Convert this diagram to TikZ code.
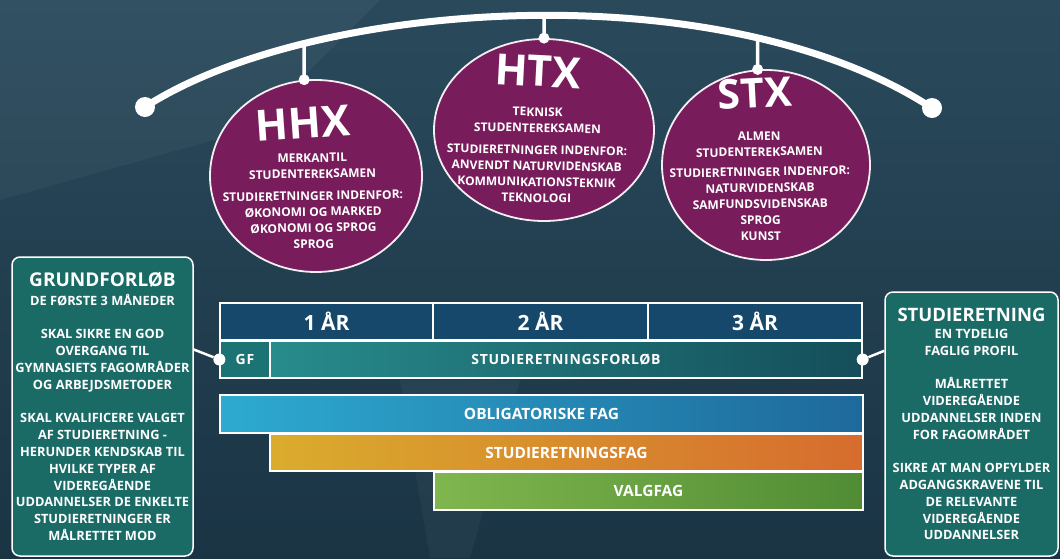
\documentclass[tikz,border=0pt]{standalone}
\usepackage{fontspec}
\setmainfont{Open Sans}
\usetikzlibrary{shapes.geometric,intersections}
\definecolor{bgtop}{RGB}{42,74,92}
\definecolor{bgbot}{RGB}{26,52,68}
\definecolor{plum}{RGB}{120,28,92}
\definecolor{boxteal}{RGB}{26,106,102}
\definecolor{yearblue}{RGB}{22,72,108}
\definecolor{sfL}{RGB}{40,140,140}
\definecolor{sfR}{RGB}{20,78,90}
\definecolor{gfteal}{RGB}{28,115,115}
\definecolor{obL}{RGB}{45,170,208}
\definecolor{obR}{RGB}{30,105,155}
\definecolor{srL}{RGB}{218,172,45}
\definecolor{srR}{RGB}{214,108,46}
\definecolor{vgL}{RGB}{128,182,78}
\definecolor{vgR}{RGB}{80,140,52}
\begin{document}
\begin{tikzpicture}[x=1pt,y=-1pt,
  every node/.style={text=white, inner sep=0pt},
  myell/.style={ellipse, draw=white!92!plum, line width=1.8pt, fill=plum},
  mytitle/.style={font=\bfseries\fontsize{43}{43}\selectfont},
  mybody/.style={align=center, font=\bfseries\fontsize{12}{16}\selectfont},
  bigdot/.style={circle, fill=white, minimum size=20pt},
  smalldot/.style={circle, fill=white, minimum size=11pt},
  stemline/.style={white, line width=3.5pt},
  infobox/.style={draw=white, line width=1.5pt, rounded corners=8pt, fill=boxteal, align=center, font=\bfseries\fontsize{12.8}{16.8}\selectfont},
  yearcell/.style={draw=white, line width=1.3pt, minimum height=37pt, fill=yearblue, font=\bfseries\fontsize{21}{21}\selectfont},
  rowcell/.style={draw=white, line width=1.3pt, minimum height=37pt, font=\bfseries\fontsize{14}{14}\selectfont\addfontfeatures{LetterSpace=5}},
  fagbar/.style={draw=white, line width=1.3pt, font=\bfseries\fontsize{15.5}{15.5}\selectfont},
  linkline/.style={white, line width=2.5pt}
]
\useasboundingbox (0,0) rectangle (1060,558);
\shade[top color=bgtop, bottom color=bgbot] (0,0) rectangle (1060,558);
\fill[white, opacity=0.04] (0,0) -- (380,0) -- (250,130) -- (0,200) -- cycle;
\fill[white, opacity=0.04] (400,380) -- (520,380) -- (470,558) -- (430,558) -- cycle;

% arc with end dots
\node[bigdot] (L) at (145,107) {};
\node[bigdot] (R) at (932,108) {};
\draw[white, line width=7pt, name path=arc] (L.center) .. controls (310,0) and (720,-30) .. (R.center);

% ellipses
\node[myell, minimum width=212pt, minimum height=192pt] (hhx) at (316,176) {};
\node[myell, minimum width=220pt, minimum height=182pt] (htx) at (544,130) {};
\node[myell, minimum width=208pt, minimum height=190pt] (stx) at (766,165) {};

\node[smalldot] (dh) at (hhx.97) {};
\node[smalldot] (dt) at (htx.north) {};
\node[smalldot] (ds) at (stx.95) {};
\path[name path=v1] (dh.center) -- ++(0,-120);
\path[name path=v2] (dt.center) -- ++(0,-120);
\path[name path=v3] (ds.center) -- ++(0,-120);
\path[name intersections={of=arc and v1, by=a1}];
\path[name intersections={of=arc and v2, by=a2}];
\path[name intersections={of=arc and v3, by=a3}];
\draw[stemline] (a1) -- (dh.center);
\draw[stemline] (a2) -- (dt.center);
\draw[stemline] (a3) -- (ds.center);

% ellipse texts
\node[mytitle, rotate=4] (hhxt) at (303,123) {HHX};
\node[mybody, rotate=1] (hhxb) at (313,201) {MERKANTIL\\STUDENTEREKSAMEN\\[6pt]STUDIERETNINGER INDENFOR:\\ØKONOMI OG MARKED\\ØKONOMI OG SPROG\\SPROG};
\node[mytitle, rotate=-3] (htxt) at (538,71) {HTX};
\node[mybody, rotate=-1] (htxb) at (537,155) {TEKNISK\\STUDENTEREKSAMEN\\[6pt]STUDIERETNINGER INDENFOR:\\ANVENDT NATURVIDENSKAB\\KOMMUNIKATIONSTEKNIK\\TEKNOLOGI};
\node[mytitle, font=\bfseries\fontsize{41}{41}\selectfont, rotate=3] (stxt) at (755,93) {STX};
\node[mybody, rotate=1] (stxb) at (760,186) {ALMEN\\STUDENTEREKSAMEN\\[4pt]STUDIERETNINGER INDENFOR:\\NATURVIDENSKAB\\SAMFUNDSVIDENSKAB\\SPROG\\KUNST};

% year bar
\node[yearcell, minimum width=213pt] (y1) at (326.5,321.5) {1 ÅR};
\node[yearcell, minimum width=215pt] (y2) at (540.5,321.5) {2 ÅR};
\node[yearcell, minimum width=214pt] (y3) at (755,321.5) {3 ÅR};
\node[rowcell, fill=gfteal, minimum width=50pt] (gf) at (245,359.5) {GF};
\node[rowcell, left color=sfL, right color=sfR, minimum width=592pt] (sf) at (566,359.5) {STUDIERETNINGSFORLØB};

% subject bars
\node[fagbar, left color=obL, right color=obR, minimum width=643pt, minimum height=38pt] (ob) at (541.5,414) {OBLIGATORISKE FAG};
\node[fagbar, left color=srL, right color=srR, minimum width=593pt, minimum height=37pt] (srf) at (566.5,452.5) {STUDIERETNINGSFAG};
\node[fagbar, left color=vgL, right color=vgR, minimum width=429pt, minimum height=38pt] (vg) at (648.5,491) {VALGFAG};

% info boxes
\node[infobox, minimum width=181pt, minimum height=299pt] (gfbox) at (102.5,406.5)
 {{\fontsize{19}{21}\selectfont GRUNDFORLØB}\\[2pt]
  DE FØRSTE 3 MÅNEDER\\[16.8pt]
  SKAL SIKRE EN GOD\\OVERGANG TIL\\GYMNASIETS FAGOMRÅDER\\OG ARBEJDSMETODER\\[16.8pt]
  SKAL KVALIFICERE VALGET\\AF STUDIERETNING -\\HERUNDER KENDSKAB TIL\\HVILKE TYPER AF\\VIDEREGÅENDE\\UDDANNELSER DE ENKELTE\\STUDIERETNINGER ER\\MÅLRETTET MOD};
\node[infobox, minimum width=173pt, minimum height=264pt] (srbox) at (971.5,424)
 {{\fontsize{18.5}{20}\selectfont STUDIERETNING}\\
  EN TYDELIG\\FAGLIG PROFIL\\[16.8pt]
  MÅLRETTET\\VIDEREGÅENDE\\UDDANNELSER INDEN\\FOR FAGOMRÅDET\\[16.8pt]
  SIKRE AT MAN OPFYLDER\\ADGANGSKRAVENE TIL\\DE RELEVANTE\\VIDEREGÅENDE\\UDDANNELSER};

% links
\node[smalldot, minimum size=12pt] (gfdot) at (gf.west) {};
\node[smalldot, minimum size=12pt] (sfdot) at (sf.east) {};
\draw[linkline] (gfbox.32) -- (gfdot);
\draw[linkline] (srbox.140) -- (sfdot);
\end{tikzpicture}
\end{document}
